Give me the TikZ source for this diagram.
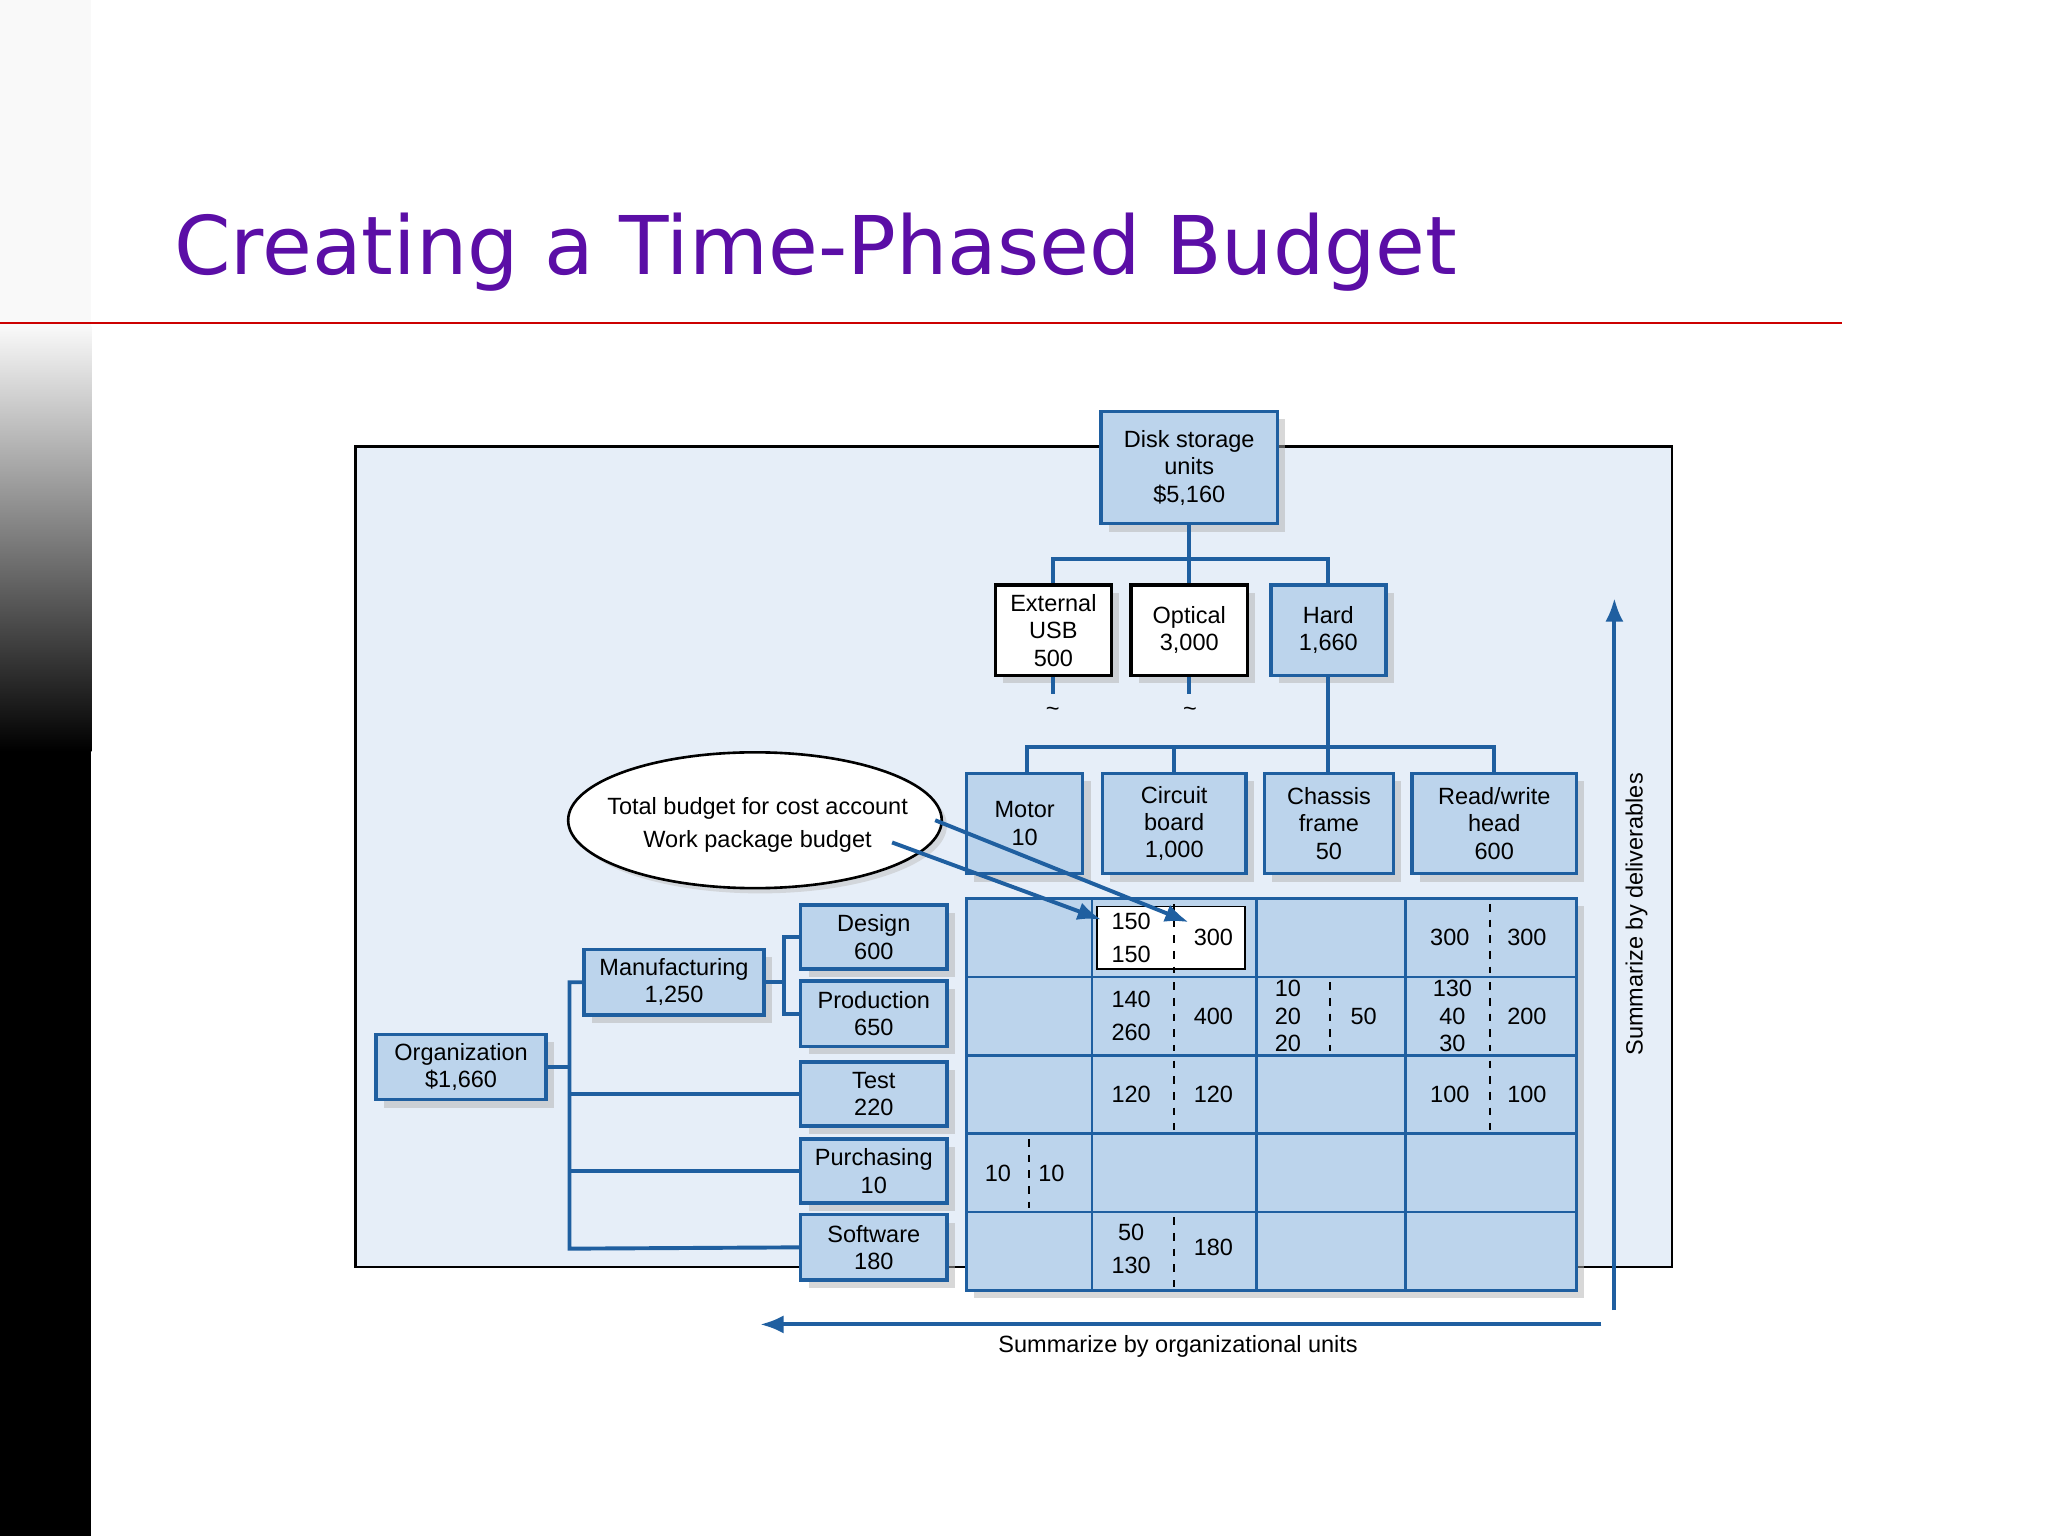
\documentclass[tikz,border=0pt]{standalone}
\usepackage{fontspec}
\setmainfont{Liberation Sans}
\newfontfamily\titlefont{DejaVu Sans}
\usetikzlibrary{shadows,arrows.meta,shapes.geometric}
\definecolor{bx}{HTML}{BCD4EC}
\definecolor{bd}{HTML}{1F5FA0}
\definecolor{bg}{HTML}{E6EEF8}
\definecolor{ttl}{HTML}{5B0EA6}
\tikzset{
 bbox/.style={draw=bd,line width=1.3pt,fill=bx,drop shadow={shadow xshift=3pt,shadow yshift=-3pt,fill=gray!60},align=center,font=\fontsize{9}{10.5}\selectfont,inner sep=0pt},
 wbox/.style={bbox,fill=white,draw=black},
 conn/.style={draw=bd,line width=1.5pt},
 txt/.style={font=\fontsize{9}{10.5}\selectfont,align=center,inner sep=0pt},
 dsh/.style={dashed,line width=0.7pt}
}
\begin{document}
\begin{tikzpicture}[x=0.5pt,y=-0.5pt]
\useasboundingbox (0,0) rectangle (1568,1176);
\fill[white] (0,0) rectangle (1568,1176);
\fill[gray!5] (0,0) rectangle (70,250);
\shade[top color=gray!5,bottom color=black] (0,250) rectangle (70,575);
\fill[black] (0,575) rectangle (70,1176);
\node[anchor=base west,text=ttl,font=\titlefont\fontsize{31}{34}\selectfont,inner sep=0pt] (title) at (133,210) {Creating a Time-Phased Budget};
\draw[red!80!black,line width=0.8pt] (0,247) -- (1410,247);
\draw[fill=bg,line width=1pt] (272,342) rectangle (1280,970);
% top tree
\node[bbox,minimum width=67.5pt,minimum height=43pt] (disk) at (910.5,358) {Disk storage\\units\\\$5,160};
\node[wbox,minimum width=44.5pt,minimum height=34.5pt] (usb) at (806.5,482.5) {External\\USB\\500};
\node[wbox,minimum width=44.5pt,minimum height=34.5pt] (opt) at (910.5,482.5) {Optical\\3,000};
\node[bbox,minimum width=44pt,minimum height=34.5pt] (hard) at (1017,482.5) {Hard\\1,660};
\draw[conn] (disk.south) -- (910.5,428) coordinate (j1);
\draw[conn] (usb.north) |- (j1) -| (hard.north);
\draw[conn] (j1) -- (opt.north);
\draw[conn] (usb.south) -- ++(0,13) coordinate (u1);
\draw[conn] (opt.south) -- ++(0,13) coordinate (o1);
\node[txt] (t1) at (806,545) {\char`~};
\node[txt] (t2) at (911,545) {\char`~};
\node[bbox,minimum width=44.5pt,minimum height=38.5pt] (motor) at (784.5,630.5) {Motor\\10};
\node[bbox,minimum width=55pt,minimum height=38.5pt] (circ) at (899,630.5) {Circuit\\board\\1,000};
\node[bbox,minimum width=49.5pt,minimum height=38.5pt] (chas) at (1017.5,630.5) {Chassis\\frame\\50};
\node[bbox,minimum width=63pt,minimum height=38.5pt] (rw) at (1144,630.5) {Read/write\\head\\600};
\draw[conn] (hard.south) -- (1017,572) coordinate (j2);
\draw[conn] (786,592) -- (786,572) -- (1144,572) -- (1144,592);
\draw[conn] (899,572) -- (899,592);
\draw[conn] (j2) -- (1017,592);
% grid
\node[bbox,minimum width=233.5pt,minimum height=150pt] (grid) at (973.5,838) {};
\foreach \x in {836,962,1076} \draw[bd,line width=1pt] (\x,688) -- (\x,988);
\foreach \y in {748,808,868,928} \draw[bd,line width=1pt] (740,\y) -- (1207,\y);
\draw[fill=white,draw=black,line width=0.6pt] (840,694) rectangle (953,742);
\draw[dsh] (899,692) -- (899,745) (899,752) -- (899,805) (899,812) -- (899,865) (899,932) -- (899,985);
\draw[dsh] (1141,692) -- (1141,745) (1141,752) -- (1141,805) (1141,812) -- (1141,865);
\draw[dsh] (1018,752) -- (1018,805);
\draw[dsh] (788,872) -- (788,925);
\node[txt] (c1) at (866,718) {150\\[2pt]150};
\node[txt] (c2) at (929,718) {300};
\node[txt] (c3) at (1110,718) {300};
\node[txt] (c4) at (1169,718) {300};
\node[txt] (c5) at (866,778) {140\\[2pt]260};
\node[txt] (c6) at (929,778) {400};
\node[txt] (c7) at (986,778) {10\\20\\20};
\node[txt] (c8) at (1044,778) {50};
\node[txt] (c9) at (1112,778) {130\\40\\30};
\node[txt] (c10) at (1169,778) {200};
\node[txt] (c11) at (866,838) {120};
\node[txt] (c12) at (929,838) {120};
\node[txt] (c13) at (1110,838) {100};
\node[txt] (c14) at (1169,838) {100};
\node[txt] (c15) at (764,898) {10};
\node[txt] (c16) at (805,898) {10};
\node[txt] (c17) at (866,956) {50\\[2pt]130};
\node[txt] (c18) at (929,955) {180};
% org tree
\node[bbox,minimum width=56pt,minimum height=24.5pt] (des) at (669,717.5) {Design\\600};
\node[bbox,minimum width=56pt,minimum height=25pt] (pro) at (669,776) {Production\\650};
\node[bbox,minimum width=56pt,minimum height=24.5pt] (tes) at (669,837.5) {Test\\220};
\node[bbox,minimum width=56pt,minimum height=24.5pt] (pur) at (669,896.5) {Purchasing\\10};
\node[bbox,minimum width=56pt,minimum height=25pt] (sof) at (669,955) {Software\\180};
\node[bbox,minimum width=69pt,minimum height=25pt] (man) at (516,752) {Manufacturing\\1,250};
\node[bbox,minimum width=65pt,minimum height=25pt] (org) at (353,817) {Organization\\\$1,660};
\draw[conn] (org.east) -- (436,817);
\draw[conn] (man.west) -- (436,752) -- (436,956) -- (sof.west);
\draw[conn] (436,837.5) -- (tes.west);
\draw[conn] (436,896.5) -- (pur.west);
\draw[conn] (man.east) -- (600,752);
\draw[conn] (des.west) -- (600,717.5) -- (600,776) -- (pro.west);
% ellipse
\node[draw,fill=white,ellipse,minimum width=143pt,minimum height=52pt,line width=1pt,drop shadow={shadow xshift=2pt,shadow yshift=-2pt,fill=gray!50},txt] (ell) at (578,628) {};
\node[txt] (e1) at (580,619) {Total budget for cost account};
\node[txt] (e2) at (580,644) {Work package budget};
\draw[conn,-{Latex[length=9pt,width=7pt]}] (716,628) -- (910,706);
\draw[conn,-{Latex[length=9pt,width=7pt]}] (683,645) -- (843,704);
% summaries
\coordinate (a1) at (1236,1003);
\coordinate (a2) at (1236,458);
\draw[conn,-{Latex[length=9pt,width=7pt]}] (a1) -- (a2);
\node[txt,rotate=90] (sd) at (1253,700) {Summarize by deliverables};
\coordinate (b1) at (1226,1014);
\coordinate (b2) at (582,1014);
\draw[conn,-{Latex[length=9pt,width=7pt]}] (b1) -- (b2);
\node[txt] (so) at (902,1031) {Summarize by organizational units};
\end{tikzpicture}
\end{document}
